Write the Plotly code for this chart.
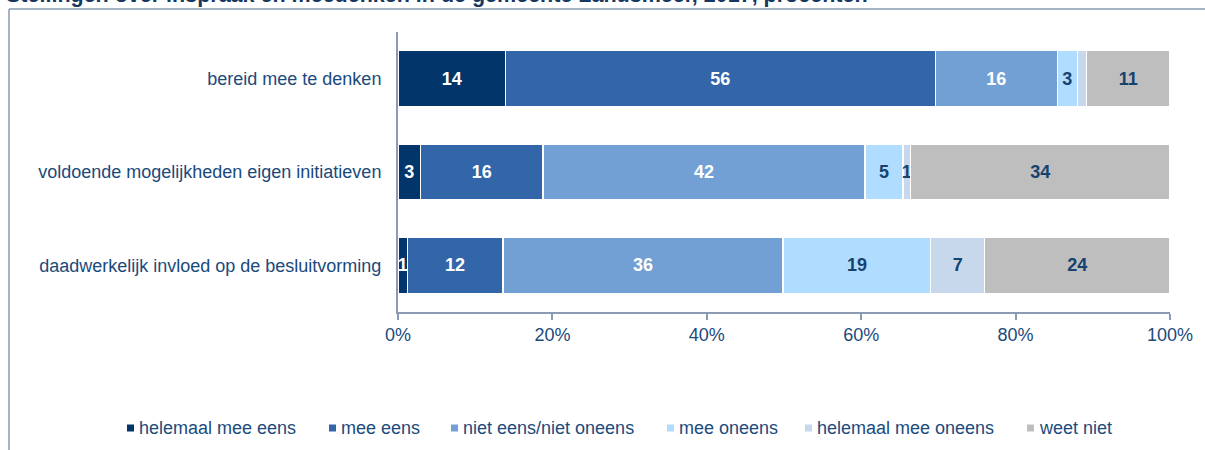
import plotly.graph_objects as go

# Statements (rows, top to bottom)
categories = [
    "bereid mee te denken",
    "voldoende mogelijkheden eigen initiatieven",
    "daadwerkelijk invloed op de besluitvorming",
]

# Answer shares per statement, percent
helemaal_mee_eens = [13.9, 2.9, 1.2]
mee_eens = [55.7, 15.9, 12.4]
niet_eens_niet_oneens = [15.8, 41.7, 36.3]
mee_oneens = [2.6, 4.9, 19.1]
helemaal_mee_oneens = [1.2, 1.0, 7.0]
weet_niet = [10.8, 33.6, 24.0]

series_names = [
    "helemaal mee eens",
    "mee eens",
    "niet eens/niet oneens",
    "mee oneens",
    "helemaal mee oneens",
    "weet niet",
]
series_values = [
    helemaal_mee_eens,
    mee_eens,
    niet_eens_niet_oneens,
    mee_oneens,
    helemaal_mee_oneens,
    weet_niet,
]
# segments whose value label is left out
hidden_labels = {("helemaal mee oneens", 0)}

x_ticks = [0, 20, 40, 60, 80, 100]
x_tick_labels = ["0%", "20%", "40%", "60%", "80%", "100%"]

title_text = "Stellingen over inspraak en meedenken in de gemeente Landsmeer, 2017, procenten"

colors = ["#02366A", "#3366A8", "#729FD4", "#B0DCFF", "#C7D8EC", "#BEBEBE"]
label_colors = ["#FFFFFF", "#FFFFFF", "#FFFFFF", "#17426F", "#17426F", "#17426F"]
text_blue = "#1B4A7C"
frame_color = "#8A9BB3"
FONT = "Liberation Sans, Arial, sans-serif"

W, H = 1205, 450
L, R, T, B = 398, 35, 32, 138
PW, PH = W - L - R, H - T - B


def px_x(px):
    return (px - L) / PW


def px_y(py):
    return (H - B - py) / PH


fig = go.Figure()
for name, vals, col, lcol in zip(series_names, series_values, colors, label_colors):
    texts = [
        "" if (name, i) in hidden_labels else f"<b>{v:.0f}</b>"
        for i, v in enumerate(vals)
    ]
    fig.add_trace(
        go.Bar(
            name=name,
            y=categories,
            x=vals,
            orientation="h",
            marker=dict(color=col, line=dict(color="#FFFFFF", width=1.5)),
            text=texts,
            textposition="inside",
            insidetextanchor="middle",
            textfont=dict(family=FONT, size=18, color=lcol),
            showlegend=False,
            hoverinfo="x+name",
        )
    )

fig.update_layout(
    width=W,
    height=H,
    barmode="stack",
    bargap=0.4,
    margin=dict(l=L, r=R, t=T, b=B, autoexpand=False),
    paper_bgcolor="#FFFFFF",
    plot_bgcolor="#FFFFFF",
    font=dict(family=FONT, size=18, color=text_blue),
    uniformtext=dict(mode="show", minsize=18),
    xaxis=dict(
        range=[0, 100],
        tickvals=x_ticks,
        ticktext=x_tick_labels,
        showgrid=False,
        zeroline=False,
        showline=True,
        linecolor=frame_color,
        linewidth=1.5,
        ticks="outside",
        ticklen=6,
        tickwidth=1.5,
        tickcolor=frame_color,
        tickfont=dict(family=FONT, size=18, color=text_blue),
        fixedrange=True,
    ),
    yaxis=dict(
        categoryorder="array",
        categoryarray=categories,
        autorange="reversed",
        showgrid=False,
        zeroline=False,
        showline=True,
        linecolor=frame_color,
        linewidth=2,
        ticks="",
        ticklabelstandoff=11,
        tickfont=dict(family=FONT, size=18, color=text_blue),
        fixedrange=True,
    ),
)

# frame around the chart area
fig.add_shape(type="line", xref="paper", yref="paper",
              x0=px_x(9), x1=px_x(W + 5), y0=px_y(9), y1=px_y(9),
              line=dict(color=frame_color, width=1.5))
fig.add_shape(type="line", xref="paper", yref="paper",
              x0=px_x(9), x1=px_x(9), y0=px_y(9), y1=px_y(H + 5),
              line=dict(color=frame_color, width=1.5))

# title above the frame
fig.add_annotation(
    text=f"<b>{title_text}</b>",
    xref="paper", yref="paper",
    x=px_x(4), y=px_y(9.5),
    xanchor="left", yanchor="bottom",
    showarrow=False,
    font=dict(family=FONT, size=21.5, color="#17375E"),
)

# legend: small squares followed by the series name
legend_square_left = [127, 329, 451, 667, 805, 1027]
legend_y = 428
for name, col, sx in zip(series_names, colors, legend_square_left):
    fig.add_shape(type="rect", xref="paper", yref="paper",
                  x0=px_x(sx), x1=px_x(sx + 7),
                  y0=px_y(legend_y + 3.5), y1=px_y(legend_y - 3.5),
                  fillcolor=col, line=dict(width=0))
    fig.add_annotation(
        text=name,
        xref="paper", yref="paper",
        x=px_x(sx + 10), y=px_y(legend_y),
        xanchor="left", yanchor="middle",
        showarrow=False,
        font=dict(family=FONT, size=18, color=text_blue),
    )

fig.write_html("out.html")
